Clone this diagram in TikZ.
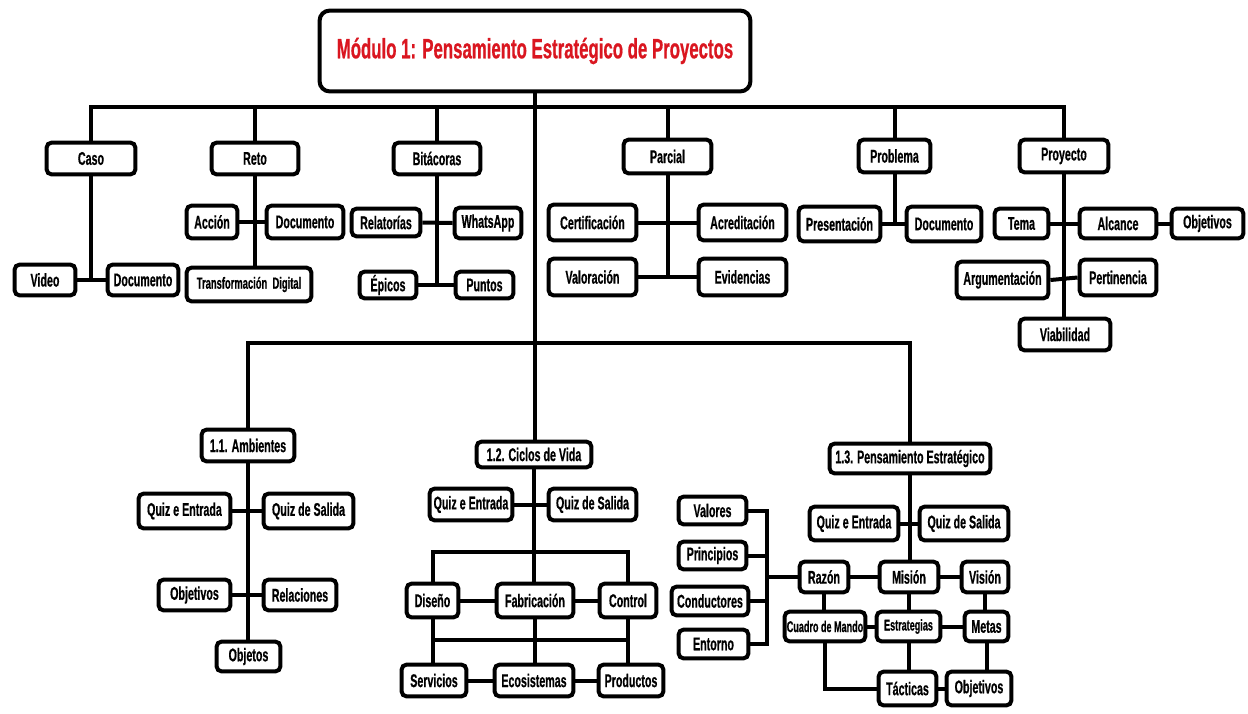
\documentclass[tikz,border=0pt]{standalone}
\usepackage{fontspec}
\setmainfont{Liberation Sans}[FakeStretch=0.58, BoldFeatures={FakeBold=0.6}]
\newfontfamily\titlefont{Liberation Sans}[FakeStretch=0.6, BoldFeatures={FakeBold=0.6}]
\definecolor{tred}{RGB}{218,22,32}
\tikzset{
  bx/.style={draw, line width=2pt, rounded corners=2.5pt, fill=white, inner sep=0pt,
    font=\bfseries\fontsize{9.2}{10}\selectfont, align=center},
  ttl/.style={bx, rounded corners=5pt, text=tred, font=\titlefont\bfseries\fontsize{14}{16}\selectfont},
  sm/.style={font=\bfseries\fontsize{8.1}{9}\selectfont},
  xs/.style={font=\bfseries\fontsize{7.8}{8}\selectfont},
  cn/.style={line width=2pt},
}
\newcommand\bx[7][]{%
  \pgfmathsetmacro\bxw{(#5-#3)*0.5-1.6}%
  \pgfmathsetmacro\bxh{(#6-#4)*0.5-1.6}%
  \node[bx,minimum width=\bxw pt,minimum height=\bxh pt,#1] (#2) at ({(#3+#5)/2},{(#4+#6)/2}) {#7};}
\begin{document}
\begin{tikzpicture}[x=0.5pt,y=-0.5pt]
\fill[white] (0,0) rectangle (1248,713);
\useasboundingbox (0,0) rectangle (1248,713);
% title
\bx[ttl]{title}{318}{9}{752}{93}{Módulo 1: Pensamiento Estratégico de Proyectos}
% level 1
\bx{caso}{45}{141}{137}{176}{Caso}
\bx{reto}{210}{141}{300}{176}{Reto}
\bx{bit}{392}{141}{482}{176}{Bitácoras}
\bx{parcial}{622}{138}{713}{175}{Parcial}
\bx{prob}{857}{138}{932}{174}{Problema}
\bx{proy}{1018}{138}{1110}{174}{Proyecto}
% caso
\bx{video}{13}{263}{77}{297}{Video}
\bx{doc1}{106}{263}{180}{297}{Documento}
% reto
\bx{acc}{185}{204}{239}{240}{Acción}
\bx{doc2}{265}{204}{345}{240}{Documento}
\bx[sm]{transf}{185}{266}{313}{303}{Transformación\ \ Digital}
% bitacoras
\bx{rel}{350}{207}{422}{238}{Relatorías}
\bx{wa}{453}{206}{523}{240}{WhatsApp}
\bx{epi}{358}{270}{418}{300}{Épicos}
\bx{pun}{454}{270}{515}{300}{Puntos}
% parcial
\bx{cert}{547}{203}{638}{242}{Certificación}
\bx{acr}{697}{203}{788}{242}{Acreditación}
\bx{val}{547}{257}{638}{297}{Valoración}
\bx{evid}{697}{257}{788}{297}{Evidencias}
% problema
\bx{pres}{797}{205}{882}{243}{Presentación}
\bx{doc3}{905}{205}{983}{243}{Documento}
% proyecto
\bx{tema}{993}{207}{1050}{240}{Tema}
\bx{alc}{1078}{207}{1158}{240}{Alcance}
\bx{objp}{1170}{207}{1245}{240}{Objetivos}
\bx{arg}{955}{260}{1050}{300}{Argumentación}
\bx{pert}{1078}{258}{1158}{297}{Pertinencia}
\bx{viab}{1018}{317}{1112}{352}{Viabilidad}
% 1.1
\bx{amb}{200}{428}{296}{463}{1.1. Ambientes}
\bx{qe1}{137}{492}{232}{530}{Quiz e Entrada}
\bx{qs1}{262}{492}{355}{530}{Quiz de Salida}
\bx{obj1}{157}{578}{232}{612}{Objetivos}
\bx{rel1}{262}{578}{338}{612}{Relaciones}
\bx{objetos}{215}{640}{282}{673}{Objetos}
% 1.2
\bx{ciclos}{475}{440}{593}{469}{1.2. Ciclos de Vida}
\bx{qe2}{428}{487}{514}{522}{Quiz e Entrada}
\bx{qs2}{547}{487}{638}{522}{Quiz de Salida}
\bx{diseno}{405}{582}{460}{619}{Diseño}
\bx{fab}{495}{582}{575}{619}{Fabricación}
\bx{control}{598}{582}{658}{619}{Control}
\bx{serv}{400}{663}{468}{698}{Servicios}
\bx{eco}{493}{663}{575}{698}{Ecosistemas}
\bx{prod}{597}{663}{665}{698}{Productos}
% 1.3
\bx{pens}{828}{442}{992}{475}{1.3. Pensamiento Estratégico}
\bx{qe3}{808}{505}{900}{542}{Quiz e Entrada}
\bx{qs3}{918}{505}{1010}{542}{Quiz de Salida}
\bx{razon}{798}{560}{850}{594}{Razón}
\bx{mision}{878}{560}{940}{594}{Misión}
\bx{vision}{960}{560}{1010}{594}{Visión}
\bx[xs]{cuadro}{783}{610}{867}{643}{Cuadro de Mando}
\bx[xs]{estr}{875}{610}{942}{643}{Estrategias}
\bx{metas}{963}{610}{1010}{643}{Metas}
\bx{tact}{877}{670}{938}{707}{Tácticas}
\bx{objs3}{945}{670}{1013}{707}{Objetivos}
\bx{valores}{677}{495}{748}{526}{Valores}
\bx{princ}{677}{540}{748}{571}{Principios}
\bx{cond}{670}{585}{750}{617}{Conductores}
\bx{entorno}{677}{628}{750}{660}{Entorno}
% coordinates
\coordinate (tb) at (535,107);
\coordinate (mb) at (535,343);
\coordinate (cb) at (535,552);
\coordinate (cl) at (535,640);
\coordinate (lb) at (767,577);
% connectors top
\draw[cn] (caso.north) |- (tb) -| (proy.north);
\draw[cn] (reto.north) -- (reto.north |- tb);
\draw[cn] (bit.north) -- (bit.north |- tb);
\draw[cn] (parcial.north) -- (parcial.north |- tb);
\draw[cn] (prob.north) -- (prob.north |- tb);
\draw[cn] (title.south) -- (title.south |- ciclos.north);
\draw[cn] (amb.north) |- (mb) -| (pens.north);
% caso
\draw[cn] (caso.south) -- (caso.south |- video.east);
\draw[cn] (video.east) -- (doc1.west);
% reto
\draw[cn] (reto.south) -- (reto.south |- transf.north);
\draw[cn] (acc.east) -- (doc2.west);
% bitacoras
\draw[cn] (bit.south) -- (bit.south |- epi.east);
\draw[cn] (rel.east) -- (wa.west);
\draw[cn] (epi.east) -- (pun.west);
% parcial
\draw[cn] (parcial.south) -- (parcial.south |- val.east);
\draw[cn] (cert.east) -- (acr.west);
\draw[cn] (val.east) -- (evid.west);
% problema
\draw[cn] (prob.south) -- (prob.south |- pres.east);
\draw[cn] (pres.east) -- (doc3.west);
% proyecto
\draw[cn] (proy.south) -- (proy.south |- viab.north);
\draw[cn] (tema.east) -- (alc.west);
\draw[cn] (alc.east) -- (objp.west);
\draw[cn] (arg.east) -- (pert.west);
% 1.1
\draw[cn] (amb.south) -- (amb.south |- objetos.north);
\draw[cn] (qe1.east) -- (qs1.west);
\draw[cn] (obj1.east) -- (rel1.west);
% 1.2
\draw[cn] (ciclos.south) -- (ciclos.south |- fab.north);
\draw[cn] (qe2.east) -- (qs2.west);
\draw[cn] (diseno.north) |- (cb) -| (control.north);
\draw[cn] (diseno.east) -- (fab.west);
\draw[cn] (fab.east) -- (control.west);
\draw[cn] (diseno.south) -- (diseno.south |- serv.north);
\draw[cn] (fab.south) -- (fab.south |- eco.north);
\draw[cn] (control.south) -- (control.south |- prod.north);
\draw[cn] (diseno.south |- cl) -- (control.south |- cl);
\draw[cn] (serv.east) -- (eco.west);
\draw[cn] (eco.east) -- (prod.west);
% 1.3
\draw[cn] (pens.south) -- (pens.south |- mision.north);
\draw[cn] (qe3.east) -- (qs3.west);
\draw[cn] (razon.east) -- (mision.west);
\draw[cn] (mision.east) -- (vision.west);
\draw[cn] (cuadro.east) -- (estr.west);
\draw[cn] (estr.east) -- (metas.west);
\draw[cn] (tact.east) -- (objs3.west);
\draw[cn] (razon.south) -- (razon.south |- cuadro.north);
\draw[cn] (mision.south) -- (mision.south |- estr.north);
\draw[cn] (vision.south) -- (vision.south |- metas.north);
\draw[cn] (estr.south) -- (estr.south |- tact.north);
\draw[cn] (metas.south) -- (metas.south |- objs3.north);
\draw[cn] (cuadro.south) |- (tact.west);
\draw[cn] (valores.east) -- (valores.east -| lb) -- (entorno.east -| lb) -- (entorno.east);
\draw[cn] (princ.east) -- (princ.east -| lb);
\draw[cn] (cond.east) -- (cond.east -| lb);
\draw[cn] (razon.west -| lb) -- (razon.west);
\end{tikzpicture}
\end{document}
